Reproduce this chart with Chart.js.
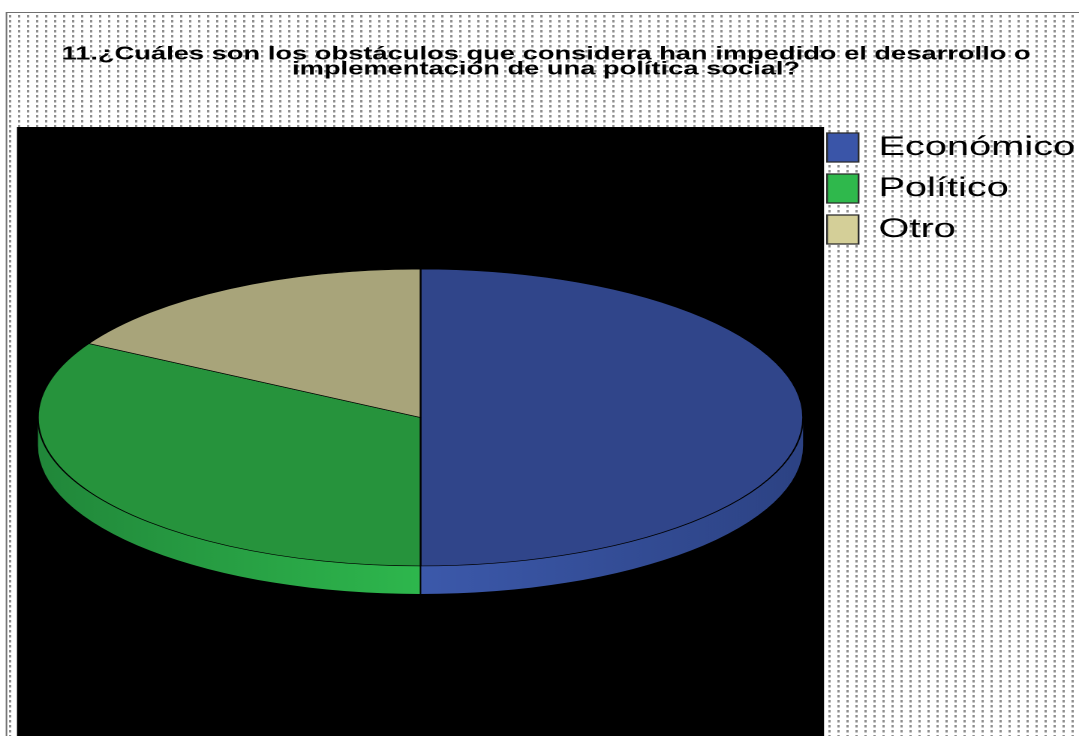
<!DOCTYPE html>
<html>
<head>
<meta charset="utf-8">
<script src="https://cdn.jsdelivr.net/npm/chart.js@4/dist/chart.umd.min.js"></script>
<style>
html,body{margin:0;padding:0;background:#fff;overflow:hidden}
</style>
</head>
<body>
<canvas id="c" width="719" height="736" style="display:block;width:1079px;height:736px"></canvas>
<script>
// ---- data ----
const categories = ['Económico', 'Político', 'Otro'];
const values = [50, 33.3, 16.7];
const titleLines = [
  '11.¿Cuáles son los obstáculos que considera han impedido el desarrollo o',
  'implementación de una política social?'
];

// ---- styles ----
const topColors = ['#30458a', '#26933c', '#a8a47a'];
const legendColors = ['#3a55a8', '#2fb84c', '#d4cf98'];
const sideFront = ['#3c59ab', '#2eb74d', '#cfcb95'];
const sideEdge = ['#2c4283', '#21873a', '#a09c72'];
const FONT = "'Liberation Sans', Arial, sans-serif";

function pieGeom(chart) {
  const a = chart.chartArea, lg = chart.legend;
  const left = a.left, top = a.top;
  const right = lg.left + lg.options.labels.padding - 2;
  const bottom = chart.height;
  const w = right - left, h = bottom - top;
  const depth = h * 0.046;
  return {left, top, right, bottom, w, h,
    cx: (left + right) / 2, cy: (top + bottom) / 2 - depth / 2,
    rx: w * 0.474, ry: h * 0.2438, depth};
}

let patternCache = null;
function dotPattern(ctx) {
  if (patternCache) return patternCache;
  const t = document.createElement('canvas');
  t.width = 12; t.height = 10;
  const tc = t.getContext('2d');
  tc.fillStyle = '#ffffff'; tc.fillRect(0, 0, 12, 10);
  tc.fillStyle = '#8e8e8e'; tc.fillRect(0, 0, 3, 5);
  const p = ctx.createPattern(t, 'repeat');
  p.setTransform(new DOMMatrix().scale(0.5, 0.5));
  patternCache = p;
  return p;
}

const backgroundPlugin = {
  id: 'bg',
  afterLayout(chart) {
    // legend: drop the library's 10px trailing slack and lift it slightly
    chart.legend.left += 10;
    chart.legend.right += 10;
    chart.legend.top -= 6;
    chart.legend.bottom -= 6;
  },
  beforeDraw(chart) {
    const ctx = chart.ctx, g = pieGeom(chart);
    ctx.save();
    ctx.fillStyle = '#ffffff';
    ctx.fillRect(0, 0, chart.width, chart.height);
    ctx.fillStyle = dotPattern(ctx);
    ctx.fillRect(4, 12, chart.width - 4, chart.height - 12);
    ctx.strokeStyle = '#707070';
    ctx.lineWidth = 1;
    ctx.beginPath();
    ctx.moveTo(4, 12.5); ctx.lineTo(chart.width, 12.5);
    ctx.moveTo(4.3, 12); ctx.lineTo(4.3, chart.height);
    ctx.stroke();
    ctx.fillStyle = '#000000';
    ctx.fillRect(g.left, g.top, g.w, g.h);
    ctx.restore();
  }
};

const pie3dPlugin = {
  id: 'pie3d',
  beforeDatasetsDraw(chart) {
    const ctx = chart.ctx, g = pieGeom(chart);
    const meta = chart.getDatasetMeta(0);
    const TWO_PI = Math.PI * 2;
    // side walls (front half of the disc)
    ctx.save();
    meta.data.forEach((arc, i) => {
      const s = arc.startAngle, e = arc.endAngle;
      [-TWO_PI, 0, TWO_PI].forEach(off => {
        const a1 = Math.max(s, off), a2 = Math.min(e, off + Math.PI);
        if (a2 <= a1) return;
        ctx.beginPath();
        ctx.ellipse(g.cx, g.cy, g.rx, g.ry, 0, a1, a2, false);
        ctx.ellipse(g.cx, g.cy + g.depth, g.rx, g.ry, 0, a2, a1, true);
        ctx.closePath();
        const grad = ctx.createLinearGradient(g.cx - g.rx, 0, g.cx + g.rx, 0);
        grad.addColorStop(0, sideEdge[i]);
        grad.addColorStop(0.5, sideFront[i]);
        grad.addColorStop(1, sideEdge[i]);
        ctx.fillStyle = grad;
        ctx.fill();
      });
    });
    ctx.strokeStyle = '#000000';
    ctx.lineWidth = 1;
    meta.data.forEach(arc => {
      let a = ((arc.startAngle % TWO_PI) + TWO_PI) % TWO_PI;
      if (a > 0.01 && a < Math.PI - 0.01) {
        const x = g.cx + g.rx * Math.cos(a), y = g.cy + g.ry * Math.sin(a);
        ctx.beginPath();
        ctx.moveTo(x, y);
        ctx.lineTo(x, y + g.depth);
        ctx.stroke();
      }
    });
    ctx.restore();
    // flatten the library's pie into the top ellipse
    const ref = meta.data[0];
    const R = ref.outerRadius;
    ctx.save();
    ctx.translate(g.cx, g.cy);
    ctx.scale(g.rx / R, g.ry / R);
    ctx.translate(-ref.x, -ref.y);
  },
  afterDatasetsDraw(chart) {
    chart.ctx.restore();
  }
};

new Chart(document.getElementById('c'), {
  type: 'pie',
  data: {
    labels: categories,
    datasets: [{
      data: values,
      backgroundColor: topColors,
      borderColor: '#000000',
      borderWidth: 1.1,
      clip: false
    }]
  },
  options: {
    responsive: false,
    animation: false,
    devicePixelRatio: 2,
    events: [],
    layout: {padding: {left: 11.3, right: 2.55, top: 12, bottom: 0}},
    plugins: {
      tooltip: {enabled: false},
      title: {
        display: true,
        text: titleLines,
        color: '#000000',
        font: {family: FONT, size: 18.2, weight: 'bold', lineHeight: 15 / 18.2},
        padding: {top: 35, bottom: 50}
      },
      legend: {
        display: true,
        position: 'right',
        align: 'start',
        fullSize: false,
        labels: {
          color: '#000000',
          font: {family: FONT, size: 26.5},
          boxWidth: 21,
          boxHeight: 29,
          padding: 12,
          generateLabels(chart) {
            const items = Chart.overrides.doughnut.plugins.legend.labels.generateLabels(chart);
            return items.map((it, i) => Object.assign(it, {
              fillStyle: legendColors[i],
              strokeStyle: '#2a2a2a',
              lineWidth: 1.2
            }));
          }
        }
      }
    }
  },
  plugins: [backgroundPlugin, pie3dPlugin]
});
</script>
</body>
</html>
